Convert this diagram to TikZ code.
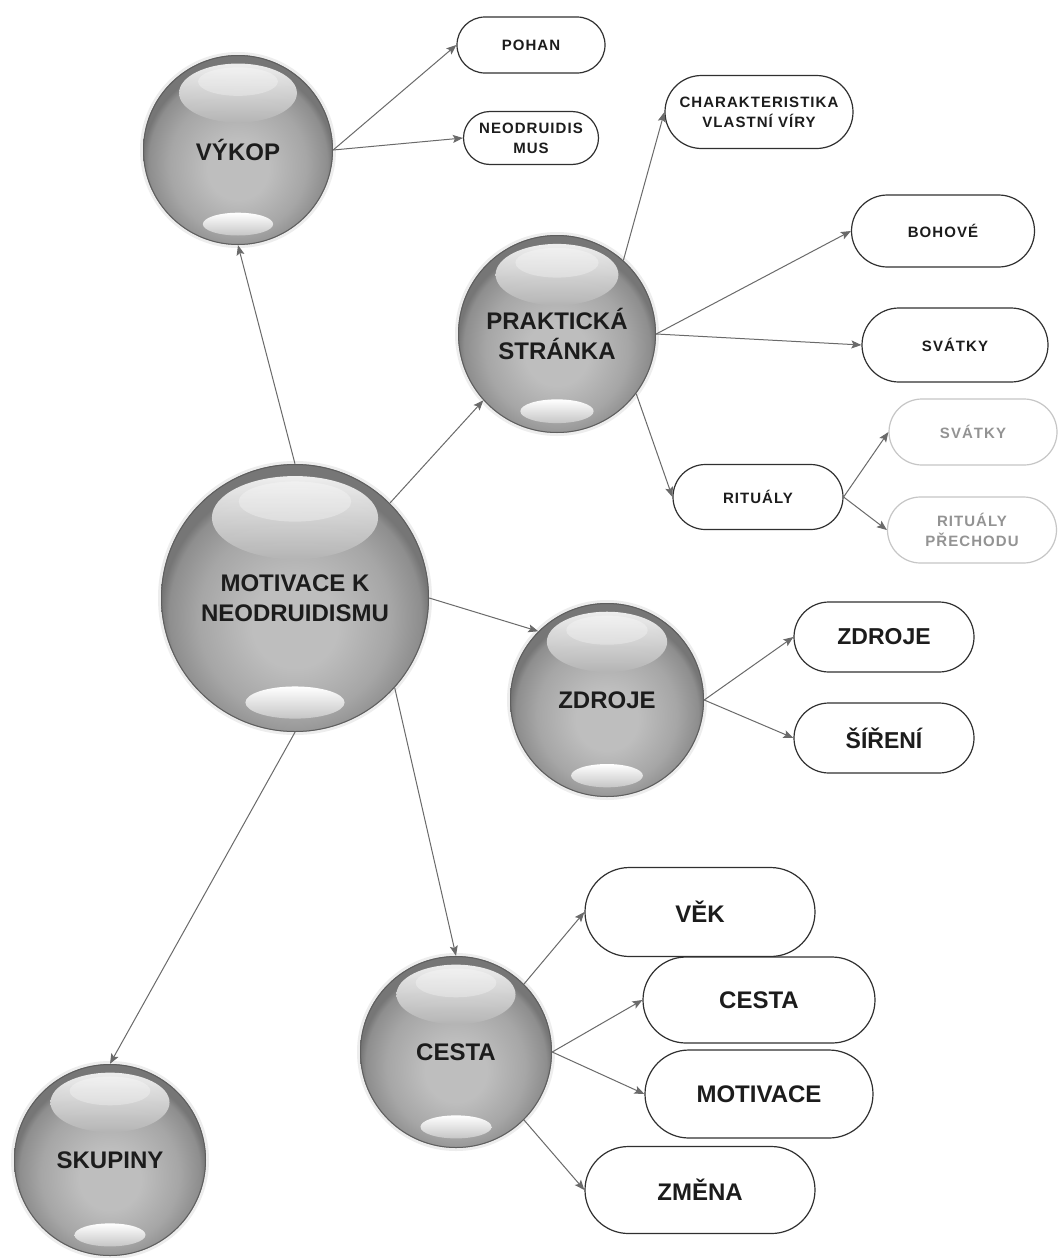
\documentclass[tikz,border=0pt]{standalone}
\usepackage{fontspec}
\setmainfont{Liberation Sans}
\newfontfamily\spacedfont[LetterSpace=7]{Liberation Sans}
\usetikzlibrary{arrows.meta,calc}
\definecolor{sphC}{HTML}{BEBEBE}
\definecolor{sphM}{HTML}{A6A6A6}
\definecolor{sphE}{HTML}{8E8E8E}
\definecolor{sphR}{HTML}{767676}
\definecolor{linec}{HTML}{6A6A6A}
\definecolor{boxc}{HTML}{303030}
\definecolor{txtc}{HTML}{1C1C1C}
\pgfdeclareradialshading{sphs}{\pgfpoint{0bp}{-6bp}}{color(0bp)=(sphC); color(8bp)=(sphC); color(18bp)=(sphM); color(23.5bp)=(sphE); color(25bp)=(sphR); color(50bp)=(sphR)}
\newcommand\Sphere[5]{%
  \fill[black!7] (#2,#3) circle[radius=#4pt+3pt];
  \shade[shading=sphs] (#2,#3) circle[radius=#4pt];
  \draw[sphR!80!black, line width=1pt] (#2,#3) circle[radius=#4pt-0.5pt];
  \shade[top color=white!92!gray, bottom color=gray!58, opacity=.95] ($(#2,#3)+(0pt,{0.6*#4pt})$) ellipse[x radius={0.62*#4pt}, y radius={0.31*#4pt}];
  \fill[white, opacity=.3] ($(#2,#3)+(0pt,{0.72*#4pt})$) ellipse[x radius={0.42*#4pt}, y radius={0.15*#4pt}];
  \shade[top color=white, bottom color=gray!45] ($(#2,#3)+(0pt,{-0.78*#4pt})$) ellipse[x radius={0.37*#4pt}, y radius={0.12*#4pt}];
  \node[sphtext, minimum size={2*#4pt}] (#1) at (#2,#3) {#5};
}
\tikzset{
  x=1pt, y=-1pt,
  sphtext/.style={circle, inner sep=0pt, align=center, text=txtc,
    font=\bfseries\fontsize{24}{30}\selectfont},
  pill/.style={rectangle, draw=boxc, line width=1.2pt, fill=white, align=center,
    text=txtc, inner sep=0pt},
  smallpill/.style={pill, font=\spacedfont\bfseries\fontsize{15}{20}\selectfont},
  bigpill/.style={pill, font=\bfseries\fontsize{24}{28}\selectfont},
  greypill/.style={smallpill, draw=gray!45, text=gray!85},
  arr/.style={draw=linec, line width=1pt, -{Stealth[length=10pt,width=8pt,inset=2pt]}},
  psz/.style 2 args={minimum width=#1pt, minimum height=#2pt,
    /utils/exec={\pgfmathsetmacro\rcval{#2/2}}, rounded corners=\rcval pt},
}
\begin{document}
\begin{tikzpicture}
\fill[white] (0,0) rectangle (1059,1258);
\useasboundingbox (0,0) rectangle (1059,1258);

% spheres
\Sphere{vykop}{238}{150}{95}{VÝKOP}
\Sphere{prak}{557}{334}{99}{PRAKTICKÁ\\STRÁNKA}
\Sphere{mot}{295}{598}{134}{MOTIVACE K\\NEODRUIDISMU}
\Sphere{zdr}{607}{700}{97}{ZDROJE}
\Sphere{ces}{456}{1052}{96}{CESTA}
\Sphere{skup}{110}{1160}{96}{SKUPINY}

% pills
\node[smallpill, psz={148}{56}] (pohan) at (531,45) {POHAN};
\node[smallpill, psz={135}{53}] (neo) at (531,138) {NEODRUIDIS\\MUS};
\node[smallpill, psz={188}{73}] (char) at (759,112) {CHARAKTERISTIKA\\VLASTNÍ VÍRY};
\node[smallpill, psz={183}{72}] (bohove) at (943,231) {BOHOVÉ};
\node[smallpill, psz={186}{74}] (svatky) at (955,345) {SVÁTKY};
\node[smallpill, psz={170}{65}] (rit) at (758,497) {RITUÁLY};
\node[greypill, psz={168}{66}] (sv2) at (973,432) {SVÁTKY};
\node[greypill, psz={169}{66}] (rp) at (972,530) {RITUÁLY\\PŘECHODU};
\node[pill, font=\bfseries\fontsize{23}{27}\selectfont, psz={180}{70}] (zb) at (884,637) {ZDROJE};
\node[pill, font=\bfseries\fontsize{23}{27}\selectfont, psz={180}{70}] (sir) at (884,738) {ŠÍŘENÍ};
\node[bigpill, psz={230}{89}] (vek) at (700,912) {VĚK};
\node[bigpill, psz={232}{86}] (cb) at (759,1000) {CESTA};
\node[bigpill, psz={228}{88}] (mb) at (759,1094) {MOTIVACE};
\node[bigpill, psz={230}{87}] (zm) at (700,1190) {ZMĚNA};

% connectors
\draw[arr] (mot.north) -- (vykop.south);
\draw[arr] (mot.45) -- (prak.222);
\draw[arr] (mot.east) -- (zdr.135);
\draw[arr] (mot.-42) -- (ces.north);
\draw[arr] (mot.south) -- (skup.north);
\draw[arr] (vykop.east) -- (pohan.west);
\draw[arr] (vykop.east) -- (neo.west);
\draw[arr] (prak.48) -- (char.west);
\draw[arr] (prak.east) -- (bohove.west);
\draw[arr] (prak.east) -- (svatky.west);
\draw[arr] (prak.-37) -- (rit.west);
\draw[arr] (rit.east) -- (sv2.west);
\draw[arr] (rit.east) -- (rp.west);
\draw[arr] (zdr.east) -- (zb.west);
\draw[arr] (zdr.east) -- (sir.west);
\draw[arr] (ces.45) -- (vek.west);
\draw[arr] (ces.east) -- (cb.west);
\draw[arr] (ces.east) -- (mb.west);
\draw[arr] (ces.-45) -- (zm.west);
\end{tikzpicture}
\end{document}
